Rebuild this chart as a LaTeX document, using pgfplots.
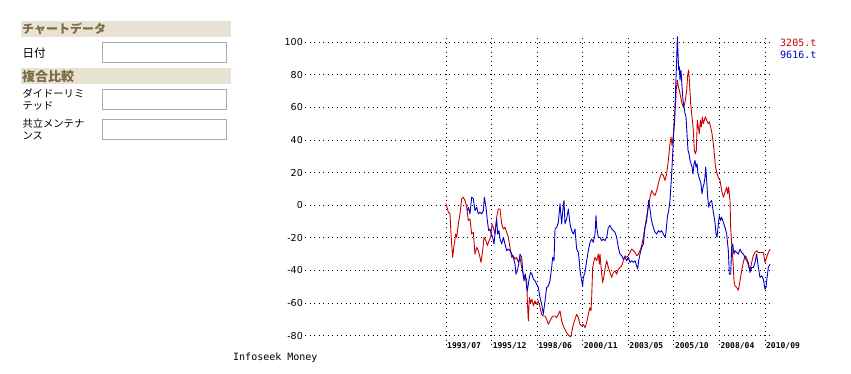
\documentclass[border=0pt]{standalone}
\usepackage{fontspec}
\usepackage{pgfplots}
\pgfplotsset{compat=1.18}
\setmainfont{DejaVu Sans}
\newfontfamily\jp{Noto Sans CJK JP}
\newfontfamily\mono{DejaVu Sans Mono}
\definecolor{hdrbg}{RGB}{232,226,210}
\definecolor{hdrtx}{RGB}{122,106,69}
\definecolor{boxgray}{RGB}{170,170,170}
\definecolor{sred}{RGB}{204,0,0}
\definecolor{sblue}{RGB}{0,0,204}
\begin{document}
\begin{tikzpicture}
\path[use as bounding box, fill=white] (0pt,0pt) rectangle (851pt,374pt);
% left panel
\fill[hdrbg] (20.7pt,336.7pt) rectangle (230.7pt,353.3pt);
\node[anchor=west, inner sep=0pt, text=hdrtx, font=\jp\bfseries\fontsize{12}{12}\selectfont] at (22pt,345pt) {チャートデータ};
\node[anchor=west, inner sep=0pt, font=\jp\fontsize{11.5}{12}\selectfont] at (22.3pt,321.3pt) {日付};
\draw[boxgray, line width=1pt] (102.8pt,311.2pt) rectangle (226.2pt,331.2pt);
\fill[hdrbg] (20.7pt,289.7pt) rectangle (230.7pt,305.7pt);
\node[anchor=west, inner sep=0pt, text=hdrtx, font=\jp\bfseries\fontsize{13}{13}\selectfont] at (22pt,297.5pt) {複合比較};
\node[anchor=west, inner sep=0pt, font=\jp\fontsize{10.3}{11}\selectfont] at (22.3pt,280.7pt) {ダイドーリミ};
\node[anchor=west, inner sep=0pt, font=\jp\fontsize{10.3}{11}\selectfont] at (22.3pt,268pt) {テッド};
\draw[boxgray, line width=1pt] (102.8pt,264.5pt) rectangle (226.2pt,284.2pt);
\node[anchor=west, inner sep=0pt, font=\jp\fontsize{10.3}{11}\selectfont] at (22.3pt,250.7pt) {共立メンテナ};
\node[anchor=west, inner sep=0pt, font=\jp\fontsize{10.3}{11}\selectfont] at (22.3pt,238pt) {ンス};
\draw[boxgray, line width=1pt] (102.8pt,234.5pt) rectangle (226.2pt,254.2pt);
% footer and legend
\node[anchor=west, inner sep=0pt, font=\mono\fontsize{10}{10}\selectfont] at (233pt,16pt) {Infoseek Money};
\node[anchor=west, inner sep=0pt, text=sred, font=\mono\fontsize{10}{10}\selectfont] at (780pt,330.7pt) {3205.t};
\node[anchor=west, inner sep=0pt, text=sblue, font=\mono\fontsize{10}{10}\selectfont] at (780pt,319pt) {9616.t};
\begin{axis}[
  at={(305pt,29pt)}, anchor=south west,
  width=468pt, height=310pt, scale only axis,
  xmin=915, xmax=2319, ymin=-85.8, ymax=104.5,
  axis line style={draw=none},
  major tick length=0pt,
  xtick={1338,1474.7,1611.4,1748.1,1884.8,2021.5,2158.2,2294.9},
  xticklabels={1993/07,1995/12,1998/06,2000/11,2003/05,2005/10,2008/04,2010/09},
  ytick={-80,-60,-40,-20,0,20,40,60,80,100},
  yticklabels={-80,-60,-40,-20,0,20,40,60,80,100},
  grid=major,
  major grid style={black, line width=0.9pt, dash pattern=on 0.9pt off 3.6pt},
  x tick label style={anchor=north west, inner sep=0pt, xshift=1pt, yshift=3pt, font=\mono\bfseries\fontsize{8}{8}\selectfont},
  y tick label style={anchor=east, inner sep=0pt, xshift=-2pt, font=\fontsize{9.5}{10}\selectfont},
  clip=false,
]
\addplot[sred, line width=0.9pt, line join=round] coordinates {
(1338,1) (1345,-4.3) (1350,-5.3) (1353,-17.7) (1358,-32) (1362,-24.8) (1367,-17.7) (1370,-19.7)
(1375,-11.5) (1380,-5.3) (1385,3.9) (1390,4.9) (1395,2.9) (1400,-1.2) (1405,-9.4) (1410,-8.4)
(1415,-17.7) (1420,-16.6) (1425,-30) (1430,-25.9) (1435,-27.9) (1440,-32) (1443,-35.1) (1448,-27.9)
(1452,-19.7) (1458,-21.8) (1462,-24.8) (1467,-21.8) (1472,-19.7) (1476,-11.5) (1480,-13.6) (1485,-17.7)
(1490,-7.4) (1495,-2.3) (1500,-2.3) (1505,-11.5) (1510,-14.6) (1515,-13.6) (1520,-16.6) (1525,-19.7)
(1530,-25.9) (1535,-32) (1540,-31) (1545,-33.1) (1550,-32) (1555,-35.1) (1560,-32) (1565,-38.2)
(1570,-42.3) (1575,-44.4) (1580,-45.4) (1582,-58.7) (1585,-71) (1588,-56.7) (1592,-59.8) (1596,-57.7)
(1600,-61.8) (1605,-58.7) (1610,-60.8) (1615,-58.7) (1620,-62.8) (1625,-66.9) (1630,-68) (1635,-68)
(1640,-70) (1645,-73.1) (1650,-71) (1655,-69) (1660,-68) (1665,-68) (1670,-69) (1675,-66.9)
(1680,-64.9) (1685,-71) (1690,-74.1) (1695,-76.2) (1700,-78.2) (1705,-79.7) (1712,-80.9) (1715,-78.2)
(1720,-73.1) (1725,-70) (1730,-66.9) (1735,-69) (1740,-73.1) (1745,-74.1) (1750,-73.1) (1755,-75.2)
(1760,-72.1) (1765,-66.9) (1770,-62.8) (1773,-64.9) (1775,-56.7) (1778,-38.2) (1782,-34.1) (1785,-32)
(1790,-34.1) (1795,-30) (1798,-36.1) (1800,-30) (1805,-42.3) (1808,-47.4) (1812,-43.3) (1815,-39.2)
(1820,-34.1) (1825,-38.2) (1830,-41.3) (1835,-44.4) (1840,-41.3) (1845,-40.2) (1850,-42.3) (1855,-39.2)
(1860,-38.2) (1865,-37.2) (1870,-34.1) (1875,-31) (1880,-32) (1885,-31) (1890,-29) (1895,-26.9)
(1900,-27.9) (1905,-29) (1910,-31) (1915,-30) (1920,-27.9) (1925,-24.8) (1930,-19.7) (1938,-9.4)
(1945,-1.2) (1950,4.9) (1955,9) (1960,7) (1965,6) (1970,9) (1975,13.1) (1980,17.2)
(1985,19.3) (1990,18.3) (1995,15.2) (2000,19.3) (2005,27.5) (2010,37.8) (2013,41.9) (2016,36.8)
(2020,42.9) (2023,54.2) (2026,60.4) (2029,71.7) (2032,76.8) (2035,72.7) (2038,70.6) (2042,66.5)
(2046,62.4) (2050,60.4) (2053,61.4) (2056,64.5) (2060,70.6) (2063,79.9) (2066,83) (2068,76.8)
(2072,62.4) (2076,54.2) (2080,46) (2083,33.7) (2086,31.6) (2089,33.7) (2092,52.2) (2095,48)
(2098,43.9) (2101,52.2) (2104,48) (2107,54.2) (2110,50.1) (2113,52.2) (2116,54.2) (2120,52.2)
(2125,50.1) (2128,51.1) (2132,48) (2136,43.9) (2140,37.8) (2143,31.6) (2146,24.4) (2150,20.3)
(2155,17.2) (2160,15.2) (2165,9) (2170,4.9) (2175,8) (2180,11.1) (2183,7) (2186,11.1)
(2190,2.9) (2192,-13.6) (2195,-23.8) (2198,-32) (2200,-38.2) (2202,-46.4) (2205,-49.5) (2210,-50.5)
(2215,-52.2) (2220,-46.4) (2225,-40.2) (2230,-35.1) (2235,-31) (2240,-32) (2245,-37.2) (2250,-40.2)
(2255,-35.1) (2260,-31) (2265,-29) (2270,-27.9) (2275,-29) (2280,-29) (2285,-29) (2290,-29)
(2295,-35.1) (2300,-32) (2305,-29) (2310,-26.9)
};
\addplot[sblue, line width=0.9pt, line join=round] coordinates {
(1402,-3.3) (1405,-1.2) (1410,-5.3) (1415,4.9) (1420,3.9) (1425,-3.3) (1430,-1.2) (1435,-5.3)
(1440,-4.3) (1445,-5.3) (1450,-3.3) (1453,4.9) (1458,-1.2) (1462,-9.4) (1466,-15.6) (1470,-14.6)
(1474,-17.7) (1478,-19.7) (1482,-23.8) (1485,-17.7) (1488,-11.5) (1490,-8.4) (1493,-17.7) (1497,-15.6)
(1500,-20.7) (1505,-23.8) (1510,-19.7) (1515,-23.8) (1520,-27.9) (1525,-26.9) (1530,-27.9) (1535,-30)
(1540,-32) (1545,-36.1) (1548,-42.3) (1552,-40.2) (1556,-36.1) (1560,-30) (1565,-32) (1568,-40.2)
(1572,-46.4) (1576,-42.3) (1580,-50.5) (1582,-52.6) (1585,-48.5) (1588,-44.4) (1592,-41.3) (1596,-42.3)
(1600,-45.4) (1605,-46.4) (1610,-48.5) (1615,-50.5) (1620,-56.7) (1625,-60.8) (1630,-66.9) (1635,-58.7)
(1640,-50.5) (1645,-49.5) (1650,-46.4) (1655,-38.2) (1658,-32) (1662,-34.1) (1665,-14.6) (1670,-13.6)
(1675,-10.5) (1680,0.8) (1685,-11.5) (1690,0.8) (1692,2.9) (1695,-11.5) (1700,-8.4) (1705,-2.3)
(1710,-11.5) (1715,-15.6) (1720,-17.7) (1725,-14.6) (1730,-26.9) (1735,-29) (1738,-34.1) (1740,-40.2)
(1745,-46.4) (1748,-49.5) (1750,-44.4) (1755,-41.3) (1760,-34.1) (1765,-27.9) (1770,-22.8) (1775,-20.7)
(1780,-22.8) (1785,-17.7) (1788,-6.4) (1790,-13.6) (1795,-19.7) (1800,-19.7) (1805,-21.8) (1810,-20.7)
(1815,-21.8) (1820,-19.7) (1825,-13.6) (1830,-12.5) (1835,-14.6) (1840,-15.6) (1845,-16.6) (1850,-19.7)
(1855,-25.9) (1860,-30) (1865,-31) (1870,-33.1) (1875,-32) (1880,-34.1) (1885,-32) (1890,-35.1)
(1895,-34.1) (1900,-35.1) (1905,-34.1) (1910,-37.2) (1913,-39.2) (1916,-34.1) (1920,-30) (1925,-25.9)
(1930,-23.8) (1935,-13.6) (1940,-9.4) (1943,-3.3) (1946,2.9) (1950,-2.3) (1953,-7.4) (1956,-10.5)
(1960,-13.6) (1965,-16.6) (1970,-17.7) (1975,-15.6) (1980,-16.6) (1985,-15.6) (1990,-17.7) (1995,-19.7)
(1998,-16.6) (2002,-7.4) (2006,-3.3) (2010,2.9) (2015,19.3) (2018,31.6) (2021,43.9) (2024,52.2)
(2027,72.7) (2030,89.1) (2032,103.5) (2034,93.2) (2036,83) (2038,85) (2040,76.8) (2043,83)
(2046,72.7) (2049,64.5) (2052,60.4) (2055,56.3) (2058,54.2) (2061,43.9) (2064,33.7) (2067,31.6)
(2070,27.5) (2073,25.5) (2076,23.4) (2079,19.3) (2082,25.5) (2085,27.5) (2088,23.4) (2091,25.5)
(2094,19.3) (2097,17.2) (2100,15.2) (2103,13.1) (2106,7) (2109,11.1) (2112,13.1) (2115,17.2)
(2117,23.4) (2120,15.2) (2123,4.9) (2126,-1.2) (2130,1.8) (2135,2.9) (2140,-4.3) (2145,-10.5)
(2148,-17.7) (2151,-19.7) (2155,-11.5) (2158,-6.4) (2162,-9.4) (2165,-7.4) (2170,-10.5) (2175,-13.6)
(2180,-17.7) (2185,-27.9) (2188,-42.3) (2192,-42.3) (2195,-25.9) (2198,-23.8) (2202,-30) (2205,-27.9)
(2210,-29) (2215,-30) (2220,-26.9) (2225,-29) (2230,-30) (2235,-32) (2240,-34.1) (2245,-35.1)
(2250,-41.3) (2255,-38.2) (2260,-38.2) (2265,-35.1) (2270,-30) (2275,-38.2) (2280,-44.4) (2285,-43.3)
(2290,-45.4) (2295,-51.6) (2298,-50.5) (2300,-46.4) (2305,-38.2) (2310,-36.1)
};
\end{axis}
\end{tikzpicture}
\end{document}
